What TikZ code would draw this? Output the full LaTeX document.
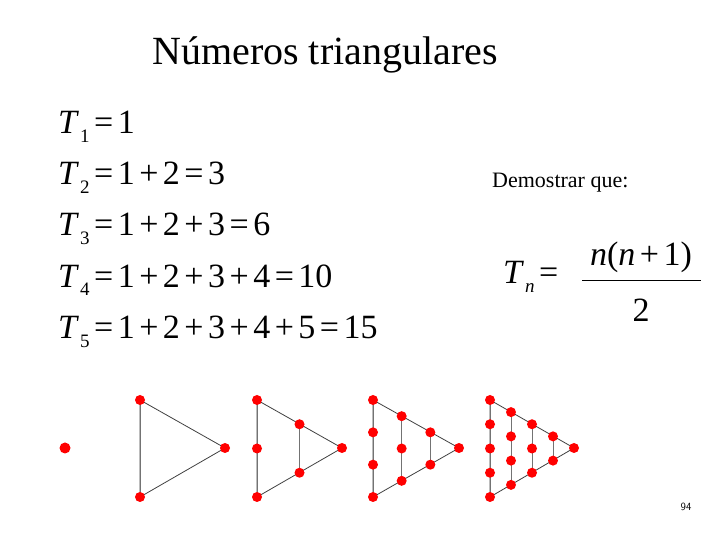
\documentclass[tikz,border=0pt]{standalone}
\usepackage{fontspec}
\setmainfont{Liberation Serif}
\newcommand{\Ts}[1]{\textit{T}\kern1pt\raisebox{-0.25em}{\fontsize{19}{20}\selectfont #1}}
\newcommand{\op}[1]{\kern4.5pt#1\kern4.5pt}
\begin{document}
\begin{tikzpicture}[x=1pt,y=1pt,
  dot/.style={circle,fill=red,inner sep=0pt,minimum size=11pt},
  edge/.style={draw=black!75,line width=0.8pt},
  eq/.style={anchor=west,inner sep=0pt,font=\fontsize{34}{38}\selectfont}]
\useasboundingbox (0,0) rectangle (720,540);
\node (title) at (325,485) {\fontsize{40}{44}\selectfont Números triangulares};
\node[eq] (e1) at (58,413) {\Ts{1}\op{=}1};
\node[eq] (e2) at (58,362) {\Ts{2}\op{=}1\op{+}2\op{=}3};
\node[eq] (e3) at (58,311) {\Ts{3}\op{=}1\op{+}2\op{+}3\op{=}6};
\node[eq] (e4) at (58,260) {\Ts{4}\op{=}1\op{+}2\op{+}3\op{+}4\op{=}10};
\node[eq] (e5) at (58,208) {\Ts{5}\op{=}1\op{+}2\op{+}3\op{+}4\op{+}5\op{=}15};
\node[anchor=west,inner sep=0pt] (dem) at (492,357) {\fontsize{22}{24}\selectfont Demostrar que:};
\node[eq] (tn) at (503,263) {\Ts{\textit{n}}\op{=}};
\node[eq,anchor=center] (num) at (641,283) {\textit{n}(\textit{n}\op{+}1)};
\node[eq,anchor=center] (den) at (641,230) {2};
\draw[line width=1pt] (582,259) -- (701,259);
\node (pg) at (686,33) {\sffamily\fontsize{11}{12}\selectfont 94};
\node[dot] (s) at (65,92) {};
% triangles
\foreach \n/\x/\ax in {2/140/225, 3/257/342, 4/373/459, 5/490/574}{
  \pgfmathsetmacro{\m}{\n-1}
  \coordinate (t\n) at (\x,140);
  \coordinate (b\n) at (\x,43);
  \coordinate (a\n) at (\ax,92);
  \draw[edge] (t\n) -- (a\n) -- (b\n) -- cycle;
  \foreach \k in {0,...,\m}{
    \pgfmathsetmacro{\cx}{\x+(\ax-\x)*\k/\m}
    \pgfmathsetmacro{\ty}{140-48.5*\k/\m}
    \pgfmathsetmacro{\by}{43+48.5*\k/\m}
    \pgfmathtruncatemacro{\cnt}{\n-\k}
    \ifnum\cnt>1
      \draw[edge,draw=black!55] (\cx,\ty) -- (\cx,\by);
    \fi
    \pgfmathtruncatemacro{\jm}{\cnt-1}
    \foreach \j in {0,...,\jm}{
      \pgfmathsetmacro{\yy}{\cnt>1 ? \ty-(\ty-\by)*\j/max(\jm,1) : 92}
      \node[dot,minimum size=10pt] (d\n-\k-\j) at (\cx,\yy) {};
    }
  }
}
\end{tikzpicture}
\end{document}
